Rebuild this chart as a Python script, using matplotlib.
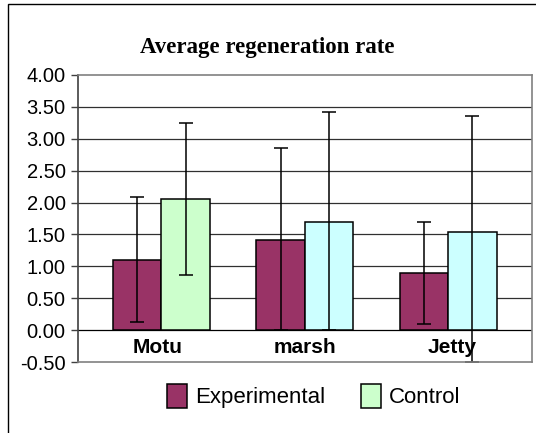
import numpy as np
import matplotlib
matplotlib.use("Agg")
from matplotlib import pyplot as plt
from matplotlib.patches import Rectangle, Patch

categories = ["Motu", "marsh", "Jetty"]
experimental = [1.10, 1.42, 0.90]
control = [2.05, 1.70, 1.54]
exp_err_low = [0.98, 1.42, 0.81]
exp_err_high = [0.99, 1.44, 0.80]
ctl_err_low = [1.18, 1.70, 2.04]
ctl_err_high = [1.19, 1.72, 1.81]
yticks = np.arange(-0.5, 4.01, 0.5)

exp_color = "#993366"
ctl_colors = ["#CCFFCC", "#CCFFFF", "#CCFFFF"]

plt.rcParams['font.family'] = ['Liberation Sans', 'DejaVu Sans']

fig = plt.figure(figsize=(5.36, 4.33), dpi=100)
ax = fig.add_axes([78/536, 1-362/433, (532-78)/536, (362-75)/433])

x = np.arange(len(categories))
w = 0.338
ax.bar(x - w/2, experimental, w, color=exp_color, edgecolor="black", linewidth=1.1, zorder=3)
ax.bar(x + w/2, control, w, color=ctl_colors, edgecolor="black", linewidth=1.1, zorder=3)
ax.errorbar(x - w/2, experimental, yerr=[exp_err_low, exp_err_high], fmt="none",
            ecolor="black", elinewidth=1.1, capsize=5, capthick=1.1, zorder=4)
ax.errorbar(x + w/2, control, yerr=[ctl_err_low, ctl_err_high], fmt="none",
            ecolor="black", elinewidth=1.1, capsize=5, capthick=1.1, zorder=4)

ax.set_xlim(-0.582, 2.585)
ax.set_ylim(-0.5, 4.0)
ax.set_yticks(yticks)
ax.set_yticklabels(["%.2f" % t for t in yticks], fontsize=14.5)
ax.set_xticks([])
ax.tick_params(axis="y", direction="out", length=5, width=1, color="#404040", pad=4)
for yv in yticks[1:-1]:
    ax.axhline(yv, color="#303030" if yv != 0 else "black", linewidth=0.9, zorder=1)
for s in ax.spines.values():
    s.set_color("#808080")
    s.set_linewidth(1.2)
    s.set_zorder(5)
ax.spines["left"].set_color("#404040")

for i, c in enumerate(categories):
    ax.text(i - 0.03 + 0.03 * i, -0.27, c, ha="center", va="center", fontsize=15, fontweight="bold", zorder=2)

fig.text(267/536, 1-47/433, "Average regeneration rate", ha="center", va="center",
         fontsize=16.5, fontweight="bold", family=["Liberation Serif", "DejaVu Serif"])

handles = [Patch(facecolor=exp_color, edgecolor="black", linewidth=1.1, label="Experimental"),
           Patch(facecolor=ctl_colors[0], edgecolor="black", linewidth=1.1, label="Control")]
fig.legend(handles=handles, loc="center", bbox_to_anchor=(0.585, 1-396/433), ncol=2,
           frameon=False, fontsize=16, handlelength=0.9, handleheight=1.3,
           handletextpad=0.35, columnspacing=1.6)

fig.add_artist(Rectangle((8/536, -0.1), 1.2, 1.1 - 4/433, transform=fig.transFigure,
                         fill=False, edgecolor="black", linewidth=1.0))

fig.savefig("out.png", dpi=100)
